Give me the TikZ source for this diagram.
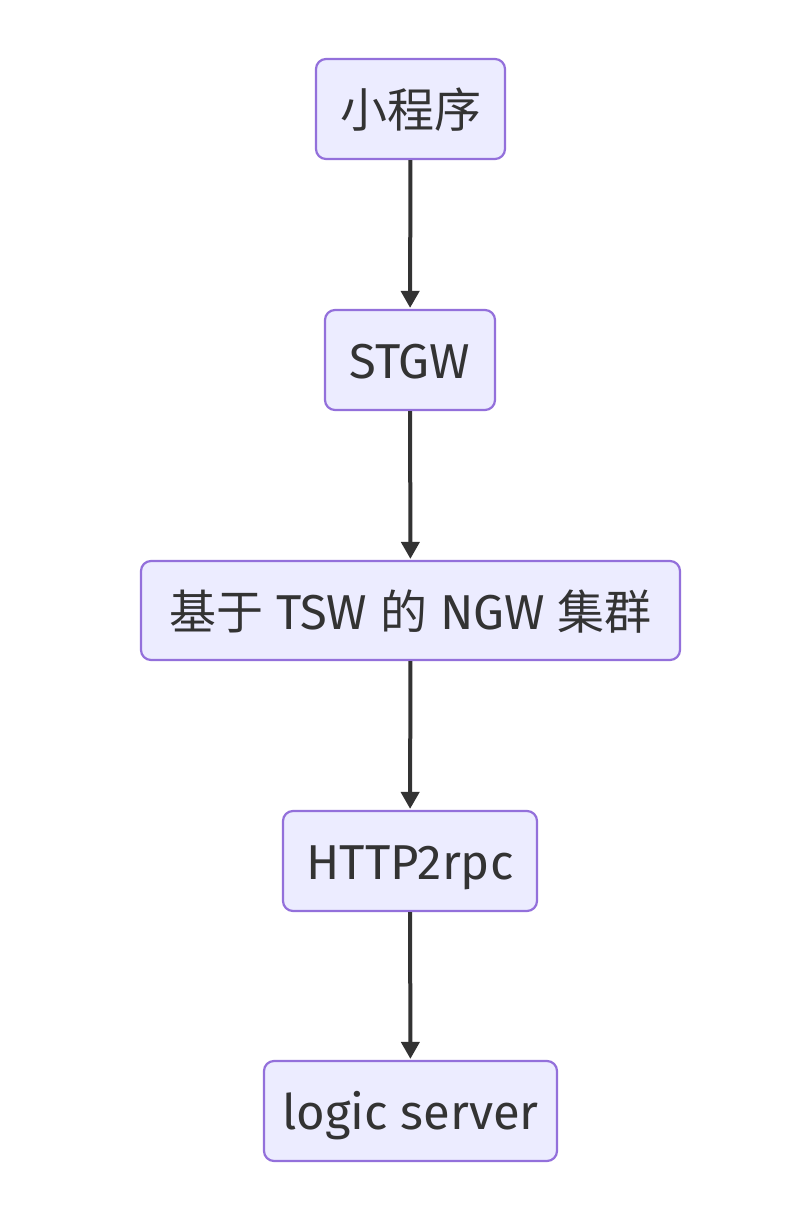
\documentclass[tikz,border=0pt]{standalone}
\usepackage{fontspec}
\setmainfont{Fira Sans}
\newfontfamily\cjkfam{Noto Sans CJK SC}
\newcommand{\cj}[1]{{\cjkfam\fontsize{47}{55}\selectfont #1}}
\newcommand{\lbl}[1]{\raisebox{-18.5pt}[0pt][0pt]{#1}}
\usetikzlibrary{arrows.meta}
\definecolor{nodefill}{HTML}{ECECFF}
\definecolor{nodeline}{HTML}{9370DB}
\definecolor{txt}{HTML}{333333}
\begin{document}
\begin{tikzpicture}[x=1pt,y=-1pt,
  box/.style={draw=nodeline, fill=nodefill, line width=2.2pt, rounded corners=10pt,
    text=txt, font=\fontsize{49}{57}\selectfont, inner sep=0pt, anchor=center},
  conn/.style={draw=txt, line width=4pt, -{Triangle[length=17pt,width=18pt]}, shorten >=1pt}]
\useasboundingbox (0,0) rectangle (789,1231);
\node[box, minimum width=189pt, minimum height=100pt] (a) at (410.5,109) {\lbl{\cj{小程序}}};
\node[box, minimum width=170pt, minimum height=100pt] (b) at (410,360) {\lbl{STGW}};
\node[box, minimum width=539pt, minimum height=99pt] (c) at (410.5,610.5) {\lbl{\cj{基于} TSW \cj{的} NGW \cj{集群}}};
\node[box, minimum width=254pt, minimum height=100pt] (d) at (410,861) {\lbl{HTTP2rpc}};
\node[box, minimum width=293pt, minimum height=100pt] (e) at (410.5,1111) {\lbl{logic server}};
\draw[conn] (a) -- (b);
\draw[conn] (b) -- (c);
\draw[conn] (c) -- (d);
\draw[conn] (d) -- (e);
\end{tikzpicture}
\end{document}
